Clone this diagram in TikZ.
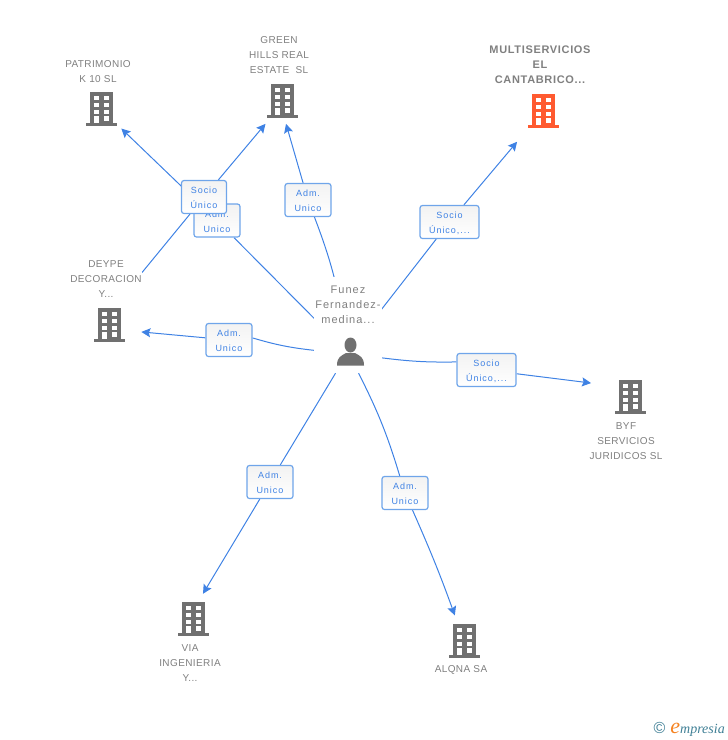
\documentclass[tikz,border=0pt]{standalone}
\usepackage{fontspec}
\usetikzlibrary{arrows.meta,backgrounds}
\newfontfamily\namefont[LetterSpace=4]{Liberation Sans}
\newfontfamily\mainnamefont[LetterSpace=6]{Liberation Sans}
\newfontfamily\personfont[LetterSpace=9]{Liberation Sans}
\newfontfamily\rolefont[LetterSpace=11]{Liberation Sans}
\newfontfamily\logofont{Liberation Serif}
\newfontfamily\logosign{Liberation Sans}
\definecolor{linkblue}{HTML}{3F82E4}
\definecolor{boxblue}{HTML}{6FA5EA}
\definecolor{icongray}{HTML}{707070}
\definecolor{textgray}{HTML}{808080}
\definecolor{iconred}{HTML}{FF5A30}
\definecolor{logoteal}{HTML}{3F7F95}
\definecolor{logoorange}{HTML}{F58220}
\tikzset{
    pics/building/.style={code={
        \fill[#1] (-11,-17) rectangle (12,14);
        \fill[#1] (-15.5,14) rectangle (16,17);
        \foreach \wy in {-13.5,-6.5,0.5} {
            \fill[white] (-7,\wy) rectangle (-2,\wy+4.5);
            \fill[white] (2.5,\wy) rectangle (7.5,\wy+4.5);
        }
        \fill[white] (-7,7) rectangle (-2,14);
        \fill[white] (2.5,7) rectangle (7.5,11.5);
    }},
    bldg/.style={circle,minimum size=46pt,inner sep=0pt},
    nametxt/.style={fill=white,inner sep=0pt,align=center,text=textgray,font=\namefont\fontsize{10}{15}\selectfont},
    rolebox/.style={draw=boxblue,line width=1.2pt,rounded corners=2.5pt,top color=black!5,bottom color=white,minimum height=33pt,inner sep=0pt,align=center,text=linkblue,text height=23pt,text depth=0pt,font=\rolefont\fontsize{9}{15}\selectfont},
    link/.style={draw=linkblue,line width=1pt,>={Stealth[length=9pt,width=9pt,inset=1.5pt]}}
}
\begin{document}
\begin{tikzpicture}[x=1pt,y=-1pt]
    \useasboundingbox (0,0) rectangle (728,740);

    \node[bldg] (patrimonio) at (101,109) {};
    \node[bldg] (green) at (282,101) {};
    \node[bldg] (multi) at (543,111) {};
    \node[bldg] (deype) at (109,325) {};
    \node[bldg] (byf) at (630,397) {};
    \node[bldg] (via) at (193,619) {};
    \node[bldg] (alqna) at (464,641) {};

    \pic at (patrimonio) {building=icongray};
    \pic at (green) {building=icongray};
    \pic at (multi) {building=iconred};
    \pic at (deype) {building=icongray};
    \pic at (byf) {building=icongray};
    \pic at (via) {building=icongray};
    \pic at (alqna) {building=icongray};

    \node[nametxt] (patrimoniotxt) at (98,71.5) {PATRIMONIO\\K 10 SL};
    \node[nametxt] (greentxt) at (279,55) {GREEN\\HILLS REAL\\ESTATE~ SL};
    \node[nametxt,font=\mainnamefont\bfseries\fontsize{11}{15}\selectfont] (multitxt) at (540,65) {MULTISERVICIOS\\EL\\CANTABRICO...};
    \node[nametxt] (deypetxt) at (106,279) {DEYPE\\DECORACION\\Y...};
    \node[nametxt] (byftxt) at (626,441) {BYF\\SERVICIOS\\JURIDICOS SL};
    \node[nametxt] (viatxt) at (190,663) {VIA\\INGENIERIA\\Y...};
    \node[nametxt] (alqnatxt) at (461,670) {ALQNA SA};

    \node[fill=white,minimum width=68pt,minimum height=41pt,inner sep=0pt] (funez) at (348,352.5) {};
    \node[nametxt,minimum width=68pt,minimum height=56pt,font=\personfont\fontsize{11}{15}\selectfont] (funeztxt) at (348,305) {Funez\\Fernandez-\\medina...};
    \fill[icongray] (350.5,345) ellipse (6pt and 7.5pt);
    \fill[icongray] (337,365.5) .. controls (337,357) and (341,356) .. (346,353) -- (355,353) .. controls (360,356) and (364,357) .. (364,365.5) -- cycle;

    \node[rolebox,minimum width=46pt] (admpatrimonio) at (217,220.5) {Adm.\\Unico};
    \node[rolebox,minimum width=45pt] (sociogreen) at (204,197) {Socio\\Único};
    \node[rolebox,minimum width=46pt] (admgreen) at (308,200) {Adm.\\Unico};
    \node[rolebox,minimum width=59pt] (sociomulti) at (449.5,222) {Socio\\Único,...};
    \node[rolebox,minimum width=46pt] (admdeype) at (229,340) {Adm.\\Unico};
    \node[rolebox,minimum width=59pt] (sociobyf) at (486.5,370) {Socio\\Único,...};
    \node[rolebox,minimum width=46pt] (admvia) at (270,482) {Adm.\\Unico};
    \node[rolebox,minimum width=46pt] (admalqna) at (405,493) {Adm.\\Unico};

    \node[inner sep=0pt,anchor=east] (logo) at (725,729) {\logosign\fontsize{16}{16}\selectfont\textcolor{logoteal}{©}\hspace{5pt}\logofont\itshape\fontsize{14}{14}\selectfont\textcolor{logoorange}{\fontsize{22}{22}\selectfont e}\textcolor{logoteal}{mpresia}};

    \begin{pgfonlayer}{background}
        \draw[link] (funez) -- (admpatrimonio);
        \draw[link,->,shorten >=5pt] (admpatrimonio) -- (patrimonio);
        \draw[link] (deypetxt.10) -- (sociogreen);
        \draw[link,->,shorten >=5pt] (sociogreen) -- (green.235);
        \draw[link] (funez) to[bend right=6] (admgreen);
        \draw[link,->] (admgreen) -- (green.280);
        \draw[link] (funez) -- (sociomulti);
        \draw[link,->,shorten >=17pt] (sociomulti) -- (multi);
        \draw[link] (funez) to[bend left=5] (admdeype.5);
        \draw[link,->,shorten >=10pt] (admdeype) -- (deype.345);
        \draw[link] (funez) to[bend right=4] (sociobyf.165);
        \draw[link,->,shorten >=19pt] (sociobyf) -- (byf.150);
        \draw[link] (funez) -- (admvia);
        \draw[link,->,shorten >=4pt] (admvia) -- (via.70);
        \draw[link] (funez) to[bend left=5] (admalqna);
        \draw[link,->,shorten >=4pt] (admalqna) to[bend left=2] (alqna);
    \end{pgfonlayer}
\end{tikzpicture}
\end{document}
